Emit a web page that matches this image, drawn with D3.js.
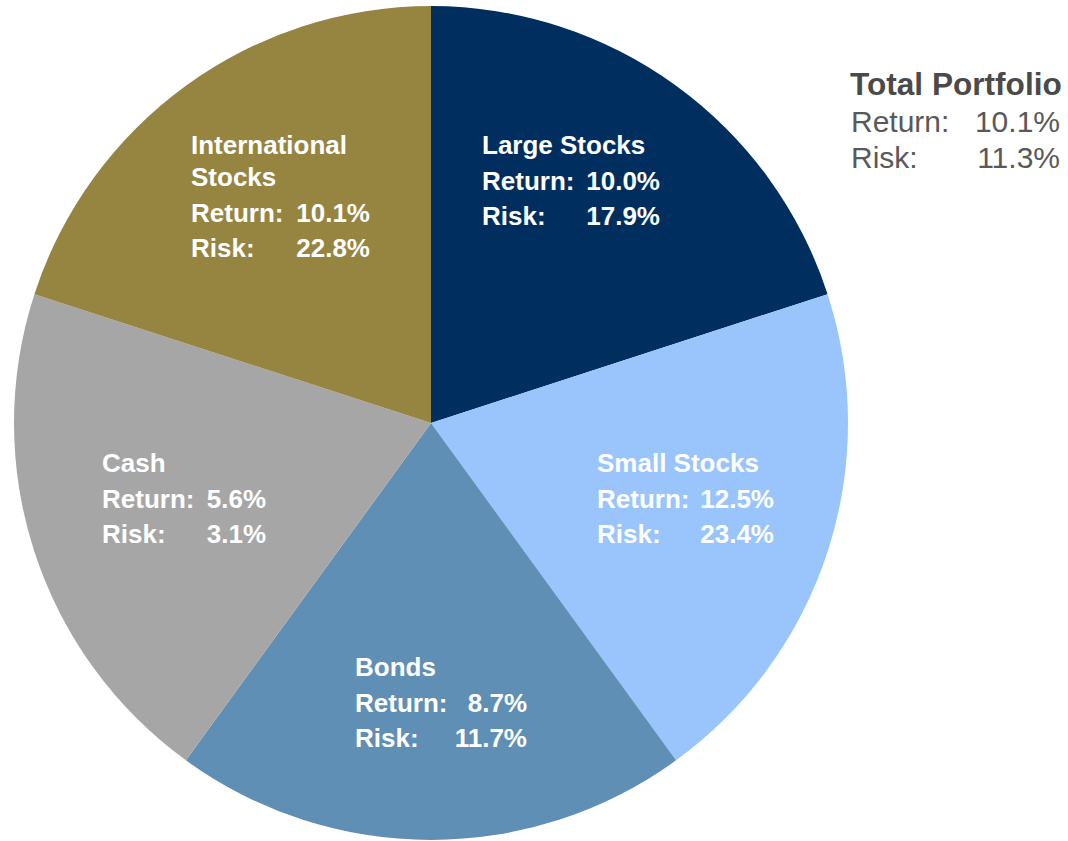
<!DOCTYPE html>
<html>
<head>
<meta charset="utf-8">
<script src="https://cdn.jsdelivr.net/npm/d3@7"></script>
<style>
  html, body { margin: 0; padding: 0; background: #ffffff; }
  svg { display: block; font-family: "Liberation Sans", Arial, sans-serif; }
</style>
</head>
<body>
<svg id="chart" width="1068" height="841"></svg>
<script>
// Asset classes, clockwise from 12 o'clock
const categories = ["Large Stocks", "Small Stocks", "Bonds", "Cash", "International Stocks"];
const weights    = [20, 20, 20, 20, 20];
const returns    = ["10.0%", "12.5%", "8.7%", "5.6%", "10.1%"];
const risks      = ["17.9%", "23.4%", "11.7%", "3.1%", "22.8%"];
const colors     = ["#002f5f", "#99c5fc", "#5f8fb4", "#a6a6a6", "#968441"];

// Portfolio summary
const totalTitle  = "Total Portfolio";
const totalReturn = "10.1%";
const totalRisk   = "11.3%";

const svg = d3.select("#chart");
const cx = 431, cy = 423, radius = 417;

const pie = d3.pie().sort(null).value(d => d.w);
const arc = d3.arc().innerRadius(0).outerRadius(radius);

const data = categories.map((c, i) => ({
  name: c, w: weights[i], ret: returns[i], risk: risks[i], color: colors[i]
}));

const g = svg.append("g").attr("transform", `translate(${cx},${cy})`);

g.selectAll("path.slice")
  .data(pie(data))
  .join("path")
  .attr("class", "slice")
  .attr("d", arc)
  .attr("fill", d => d.data.color);

// Label blocks: left edge, right edge of value column, baseline of first line (relative to centre)
const labelLayout = {
  "Large Stocks":         { x0: 51,  x1: 229, y: -269, lines: ["Large Stocks"] },
  "Small Stocks":         { x0: 166, x1: 343, y: 49,   lines: ["Small Stocks"] },
  "Bonds":                { x0: -76, x1: 96,  y: 253,  lines: ["Bonds"] },
  "Cash":                 { x0: -329, x1: -165, y: 49, lines: ["Cash"] },
  "International Stocks": { x0: -240, x1: -61, y: -269, lines: ["International", "Stocks"], gap: 32 }
};
const lh = 36;
const fs = 26;

data.forEach(d => {
  const L = labelLayout[d.name];
  const t = g.append("g")
    .attr("fill", "#ffffff")
    .attr("font-weight", "bold")
    .attr("font-size", fs + "px");
  let y = L.y;
  L.lines.forEach((ln, k) => {
    t.append("text").attr("x", L.x0).attr("y", y).text(ln);
    y += (k < L.lines.length - 1 && L.gap) ? L.gap : lh;
  });
  t.append("text").attr("x", L.x0).attr("y", y).text("Return:");
  t.append("text").attr("x", L.x1).attr("y", y).attr("text-anchor", "end").text(d.ret);
  y += lh - 1;
  t.append("text").attr("x", L.x0).attr("y", y).text("Risk:");
  t.append("text").attr("x", L.x1).attr("y", y).attr("text-anchor", "end").text(d.risk);
});

// Total portfolio summary in the top right
const tp = svg.append("g").attr("fill", "#595959");
tp.append("text").attr("x", 850).attr("y", 95).attr("fill", "#4a4a4a")
  .attr("font-weight", "bold").attr("font-size", "31.6px").text(totalTitle);
tp.append("text").attr("x", 851).attr("y", 132).attr("font-size", "30px").text("Return:");
tp.append("text").attr("x", 1060).attr("y", 132).attr("font-size", "30px")
  .attr("text-anchor", "end").text(totalReturn);
tp.append("text").attr("x", 851).attr("y", 168).attr("font-size", "30px").text("Risk:");
tp.append("text").attr("x", 1060).attr("y", 168).attr("font-size", "30px")
  .attr("text-anchor", "end").text(totalRisk);
</script>
</body>
</html>
